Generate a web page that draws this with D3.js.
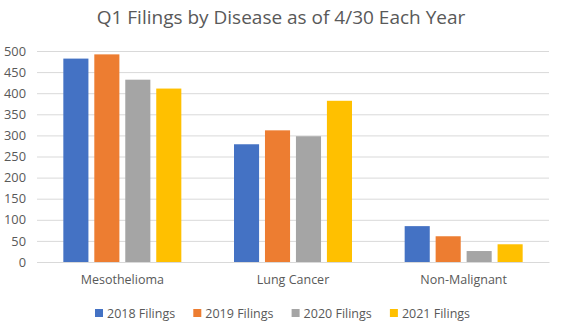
<!DOCTYPE html>
<html>
<head>
<meta charset="utf-8">
<script src="https://cdn.jsdelivr.net/npm/d3@7"></script>
<style>
  body { margin: 0; background: #fff; }
  svg text { font-family: "Open Sans", "Liberation Sans", sans-serif; fill: #595959; }
</style>
</head>
<body>
<svg id="chart" width="562" height="329"></svg>
<script>
// Daten
const categories = ['Mesothelioma', 'Lung Cancer', 'Non-Malignant'];
const seriesNames = ['2018 Filings', '2019 Filings', '2020 Filings', '2021 Filings'];
const filings2018 = [482, 279, 85];
const filings2019 = [492, 312, 61];
const filings2020 = [432, 298, 26];
const filings2021 = [411, 382, 42];
const yTicks = [0, 50, 100, 150, 200, 250, 300, 350, 400, 450, 500];
const colors = ['#4472c4', '#ed7d31', '#a5a5a5', '#ffc000'];

const seriesValues = [filings2018, filings2019, filings2020, filings2021];

const svg = d3.select('#chart');
const margin = { left: 37, right: 13, top: 51, bottom: 67 };
const W = 562, H = 329;

const x0 = d3.scaleBand()
  .domain(categories)
  .range([margin.left, W - margin.right])
  .paddingInner(0)
  .paddingOuter(0);

const groupW = 118;
const x1 = d3.scaleBand()
  .domain(seriesNames)
  .range([0, groupW])
  .paddingInner(0.19)
  .paddingOuter(0);

const y = d3.scaleLinear()
  .domain([0, 500])
  .range([H - margin.bottom, margin.top]);

// Gitternetz
const grid = svg.append('g')
  .attr('transform', `translate(${margin.left},0)`)
  .call(d3.axisLeft(y).tickValues(yTicks).tickSize(-(W - margin.left - margin.right)).tickFormat(''));
grid.select('.domain').remove();
grid.selectAll('line').attr('stroke', '#d9d9d9').attr('stroke-width', 1);

// Y-Achsen-Beschriftung
const yAxis = svg.append('g')
  .attr('transform', `translate(${margin.left},0)`)
  .call(d3.axisLeft(y).tickValues(yTicks).tickSize(0).tickPadding(11));
yAxis.select('.domain').remove();
yAxis.selectAll('text').attr('font-size', 12.8).style('fill', '#595959')
  .style('font-family', '"Open Sans", sans-serif');

// Balken
const groups = svg.append('g').selectAll('g')
  .data(categories)
  .join('g')
  .attr('transform', d => `translate(${x0(d) + (x0.bandwidth() - groupW) / 2},0)`);

groups.selectAll('rect')
  .data((d, i) => seriesNames.map((s, j) => ({ s, j, v: seriesValues[j][i] })))
  .join('rect')
  .attr('x', d => x1(d.s))
  .attr('width', x1.bandwidth())
  .attr('y', d => y(d.v))
  .attr('height', d => y(0) - y(d.v))
  .attr('fill', d => colors[d.j]);

// X-Achse
const xAxis = svg.append('g')
  .attr('transform', `translate(0,${y(0)})`)
  .call(d3.axisBottom(x0).tickSize(0).tickPadding(13));
xAxis.select('.domain').attr('stroke', '#d9d9d9');
xAxis.selectAll('text').attr('font-size', 12.5).style('fill', '#595959')
  .style('font-family', '"Open Sans", sans-serif');

// Titel
svg.append('text')
  .attr('x', 281)
  .attr('y', 24)
  .attr('text-anchor', 'middle')
  .attr('font-size', 19)
  .text('Q1 Filings by Disease as of 4/30 Each Year');

// Legende
const legend = svg.append('g').attr('transform', 'translate(95,309)');
const item = legend.selectAll('g')
  .data(seriesNames)
  .join('g')
  .attr('transform', (d, i) => `translate(${i * 98.3},0)`);
item.append('rect')
  .attr('width', 8).attr('height', 8)
  .attr('fill', (d, i) => colors[i]);
item.append('text')
  .attr('x', 12)
  .attr('y', 8.5)
  .attr('font-size', 12.5)
  .text(d => d);
</script>
</body>
</html>
